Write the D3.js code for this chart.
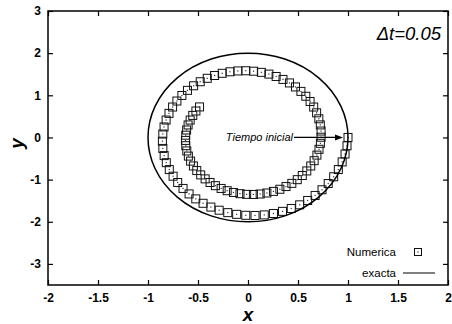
<!DOCTYPE html>
<html>
<head>
<meta charset="utf-8">
<script src="https://cdn.jsdelivr.net/npm/d3@7"></script>
<style>
  body { margin: 0; background: #fff; }
  svg { display: block; font-family: "Liberation Sans", Arial, sans-serif; }
</style>
</head>
<body>
<svg></svg>
<script>
// Data =======================================================================

const numX = [1.0000, 0.9901, 0.9705, 0.9415, 0.9034, 0.8568, 0.8022, 0.7401, 0.6714, 0.5966,
  0.5167, 0.4325, 0.3449, 0.2546, 0.1628, 0.0703, -0.0221, -0.1133, -0.2024, -0.2887,
  -0.3713, -0.4493, -0.5222, -0.5892, -0.6496, -0.7031, -0.7490, -0.7871, -0.8170, -0.8385,
  -0.8515, -0.8560, -0.8519, -0.8394, -0.8188, -0.7902, -0.7541, -0.7109, -0.6611, -0.6052,
  -0.5439, -0.4778, -0.4076, -0.3341, -0.2581, -0.1802, -0.1013, -0.0221, 0.0564, 0.1337,
  0.2088, 0.2811, 0.3500, 0.4146, 0.4746, 0.5292, 0.5781, 0.6208, 0.6569, 0.6861,
  0.7083, 0.7232, 0.7308, 0.7309, 0.7240, 0.7099, 0.6890, 0.6614, 0.6276, 0.5879,
  0.5428, 0.4927, 0.4383, 0.3801, 0.3186, 0.2547, 0.1888, 0.1217, 0.0541, -0.0134,
  -0.0801, -0.1453, -0.2085, -0.2689, -0.3261, -0.3795, -0.4286, -0.4730, -0.5123, -0.5461,
  -0.5741, -0.5962, -0.6122, -0.6220, -0.6255, -0.6227, -0.6139, -0.5990, -0.5784, -0.5522,
  -0.5209, -0.4847];

const numY = [0.0000, -0.1980, -0.3921, -0.5804, -0.7611, -0.9325, -1.0929, -1.2409, -1.3752, -1.4945,
  -1.5979, -1.6844, -1.7533, -1.8043, -1.8368, -1.8509, -1.8465, -1.8238, -1.7833, -1.7256,
  -1.6514, -1.5615, -1.4570, -1.3392, -1.2093, -1.0687, -0.9189, -0.7615, -0.5981, -0.4304,
  -0.2601, -0.0889, 0.0815, 0.2494, 0.4131, 0.5712, 0.7220, 0.8642, 0.9964, 1.1175,
  1.2263, 1.3218, 1.4034, 1.4702, 1.5218, 1.5579, 1.5781, 1.5826, 1.5713, 1.5445,
  1.5028, 1.4466, 1.3766, 1.2937, 1.1988, 1.0929, 0.9773, 0.8532, 0.7218, 0.5846,
  0.4429, 0.2983, 0.1521, 0.0059, -0.1389, -0.2809, -0.4187, -0.5509, -0.6765, -0.7940,
  -0.9026, -1.0012, -1.0888, -1.1648, -1.2286, -1.2795, -1.3172, -1.3416, -1.3524, -1.3497,
  -1.3337, -1.3047, -1.2630, -1.2092, -1.1439, -1.0681, -0.9823, -0.8877, -0.7853, -0.6760,
  -0.5612, -0.4420, -0.3195, -0.1951, -0.0700, 0.0545, 0.1773, 0.2971, 0.4128, 0.5232,
  0.6274, 0.7243];

// exact solution: ellipse centre and semi-axes
const exactCentre = [0, 0];
const exactRadii = [1, 2];

// start annotation
const startPoint = [1, 0];
const arrowFrom = [0.46, 0];
const startLabel = "Tiempo inicial";

const xTicks = [-2, -1.5, -1, -0.5, 0, 0.5, 1, 1.5, 2];
const yTicks = [-3, -2, -1, 0, 1, 2, 3];
const xDomain = [-2, 2];
const yDomain = [-3.5, 3];

const legendLabels = ["Numerica", "exacta"];
const stepLabel = "\u0394t=0.05";

// Layout =====================================================================

const svgWidth = 452,
  svgHeight = 324,
  margin = { top: 11, right: 4, bottom: 39, left: 48 };
const width = svgWidth - margin.left - margin.right,
  height = svgHeight - margin.top - margin.bottom;

const svg = d3.select("svg")
  .attr("width", svgWidth)
  .attr("height", svgHeight);

const g = svg.append("g")
  .attr("transform", `translate(${margin.left},${margin.top})`);

// Scales =====================================================================

const x = d3.scaleLinear().domain(xDomain).range([0, width]);
const y = d3.scaleLinear().domain(yDomain).range([height, 0]);

// Axes =======================================================================

const fmt = d => String(d);

g.append("g")
  .attr("transform", `translate(0,${height})`)
  .call(d3.axisBottom(x).tickValues(xTicks).tickFormat(fmt).tickSizeInner(-5).tickSizeOuter(0).tickPadding(8));
g.append("g")
  .call(d3.axisTop(x).tickValues(xTicks).tickFormat("").tickSizeInner(-5).tickSizeOuter(0));
g.append("g")
  .call(d3.axisLeft(y).tickValues(yTicks).tickFormat(fmt).tickSizeInner(-5).tickSizeOuter(0).tickPadding(7));
g.append("g")
  .attr("transform", `translate(${width},0)`)
  .call(d3.axisRight(y).tickValues(yTicks).tickFormat("").tickSizeInner(-5).tickSizeOuter(0));

g.selectAll(".domain").remove();
g.selectAll(".tick line").attr("stroke", "#000").attr("stroke-width", 1.2);
g.selectAll(".tick text")
  .attr("fill", "#000")
  .style("font-size", "12px")
  .style("font-weight", "bold");

// frame
g.append("rect")
  .attr("width", width)
  .attr("height", height)
  .attr("fill", "none")
  .attr("stroke", "#000")
  .attr("stroke-width", 1.5);

// axis titles
svg.append("text")
  .attr("x", margin.left + x(0))
  .attr("y", 321)
  .attr("text-anchor", "middle")
  .style("font-size", "19px")
  .style("font-style", "italic")
  .style("font-weight", "bold")
  .text("x");

svg.append("text")
  .attr("transform", `translate(23,${margin.top + y(0) + 6}) rotate(-90)`)
  .attr("text-anchor", "middle")
  .style("font-size", "19px")
  .style("font-style", "italic")
  .style("font-weight", "bold")
  .text("y");

// Numerical points ===========================================================

const pts = numX.map((d, i) => [d, numY[i]]);
const box = 8;

const marks = g.append("g").selectAll("g")
  .data(pts)
  .enter()
  .append("g")
  .attr("transform", d => `translate(${x(d[0])},${y(d[1])})`);

marks.append("rect")
  .attr("x", -box / 2)
  .attr("y", -box / 2)
  .attr("width", box)
  .attr("height", box)
  .attr("fill", "none")
  .attr("stroke", "#111")
  .attr("stroke-width", 1);

marks.append("rect")
  .attr("x", -0.6)
  .attr("y", -0.6)
  .attr("width", 1.2)
  .attr("height", 1.2)
  .attr("fill", "#333");

// Exact solution =============================================================

g.append("ellipse")
  .attr("cx", x(exactCentre[0]))
  .attr("cy", y(exactCentre[1]))
  .attr("rx", x(exactRadii[0]) - x(0))
  .attr("ry", y(0) - y(exactRadii[1]))
  .attr("fill", "none")
  .attr("stroke", "#000")
  .attr("stroke-width", 1.5);

// Annotation =================================================================

const ax0 = x(arrowFrom[0]), ax1 = x(startPoint[0]) - 5, ay = y(startPoint[1]);
g.append("line")
  .attr("x1", ax0).attr("y1", ay)
  .attr("x2", ax1 - 6).attr("y2", ay)
  .attr("stroke", "#000")
  .attr("stroke-width", 1.2);
g.append("path")
  .attr("d", `M${ax1},${ay} L${ax1 - 8},${ay - 3} L${ax1 - 8},${ay + 3} Z`)
  .attr("fill", "#000");

g.append("text")
  .attr("x", ax0 - 1)
  .attr("y", ay + 4)
  .attr("text-anchor", "end")
  .style("font-size", "11px")
  .style("font-style", "italic")
  .text(startLabel);

g.append("text")
  .attr("x", width - 7)
  .attr("y", 29)
  .attr("text-anchor", "end")
  .style("font-size", "18.5px")
  .style("font-style", "italic")
  .text(stepLabel);

// Legend =====================================================================

const legend = g.append("g").attr("transform", `translate(${348},0)`);

legend.selectAll("text")
  .data(legendLabels)
  .enter()
  .append("text")
  .attr("x", 0)
  .attr("y", (d, i) => 245 + i * 21)
  .attr("text-anchor", "end")
  .style("font-size", "11.5px")
  .text(d => d);

legend.append("rect")
  .attr("x", 22 - 3.5).attr("y", 241 - 3.5)
  .attr("width", 7).attr("height", 7)
  .attr("fill", "none").attr("stroke", "#111").attr("stroke-width", 1);
legend.append("rect")
  .attr("x", 21.4).attr("y", 240.4)
  .attr("width", 1.2).attr("height", 1.2)
  .attr("fill", "#333");

legend.append("line")
  .attr("x1", 7).attr("x2", 39)
  .attr("y1", 262).attr("y2", 262)
  .attr("stroke", "#000")
  .attr("stroke-width", 1);
</script>
</body>
</html>
